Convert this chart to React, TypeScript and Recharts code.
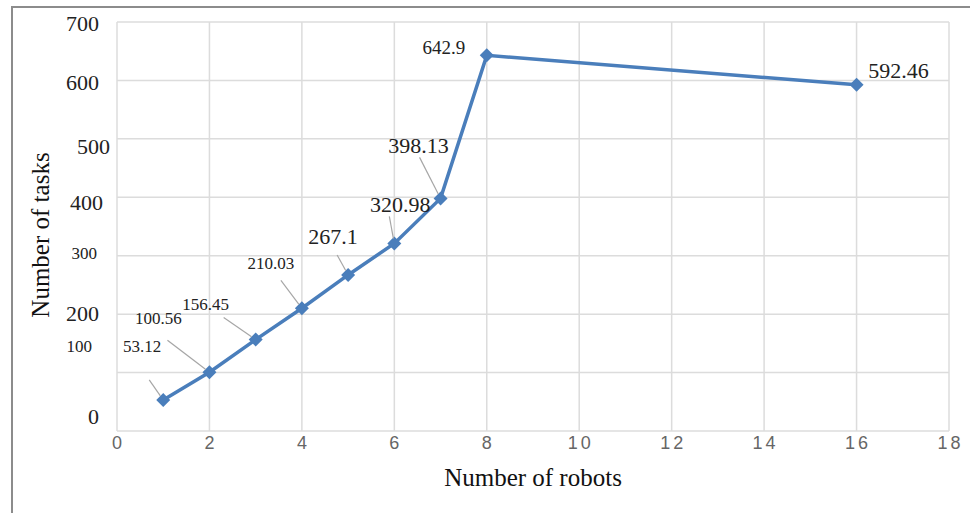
import { LineChart, Line, XAxis, YAxis, CartesianGrid, LabelList } from "recharts";

const robots = [1, 2, 3, 4, 5, 6, 7, 8, 16];
const tasks = [53.12, 100.56, 156.45, 210.03, 267.1, 320.98, 398.13, 642.9, 592.46];
const xTicks = [0, 2, 4, 6, 8, 10, 12, 14, 16, 18];
const yTicks = [0, 100, 200, 300, 400, 500, 600, 700];

const data = robots.map((r, i) => ({ robots: r, tasks: tasks[i] }));

const BLUE = "#4a7ebb";
const SERIF = "'Liberation Serif', 'Times New Roman', serif";

// where each data label sits relative to its point (Excel moved them by hand)
const labelPlacement = [
  { dx: -21, dy: -53, size: 17, leader: [-14, -20] },
  { dx: -51, dy: -54, size: 17, leader: [-42, -32] },
  { dx: -50, dy: -35, size: 17, leader: [-32, -22] },
  { dx: -31, dy: -45, size: 17, leader: [-21, -28] },
  { dx: -15, dy: -38, size: 22, leader: [-11, -20] },
  { dx: 6, dy: -39, size: 22, leader: [-5, -27] },
  { dx: -22, dy: -53, size: 22, leader: [-21, -41] },
  { dx: -43, dy: -8, size: 19, leader: null },
  { dx: 42, dy: -14, size: 22, leader: null },
];

// the y tick labels in the source are a bit off their gridlines
const yTickNudge: Record<number, { dx: number; dy: number; size: number }> = {
  0: { dx: 0, dy: -15, size: 22 },
  100: { dx: -7, dy: -26, size: 17 },
  200: { dx: 0, dy: -1, size: 22 },
  300: { dx: -2, dy: -2, size: 17 },
  400: { dx: 4, dy: 5, size: 22 },
  500: { dx: 11, dy: 8, size: 22 },
  600: { dx: 0, dy: 2, size: 22 },
  700: { dx: 0, dy: 1, size: 22 },
};

function YTick({ x, y, payload }: any) {
  const n = yTickNudge[payload.value] ?? { dx: 0, dy: 0, size: 22 };
  return (
    <text x={x + n.dx} y={y + n.dy} textAnchor="end" dominantBaseline="central" fontSize={n.size} fontFamily={SERIF} fill="#222">
      {payload.value}
    </text>
  );
}

function XTick({ x, y, payload }: any) {
  return (
    <text x={x + 1.5} y={y} textAnchor="middle" dominantBaseline="central" fontSize={18} letterSpacing={3} fontFamily="'Liberation Sans', Arial, sans-serif" fill="#666">
      {payload.value}
    </text>
  );
}

function Diamond({ cx, cy }: any) {
  const r = 7;
  return <polygon points={`${cx},${cy - r} ${cx + r},${cy} ${cx},${cy + r} ${cx - r},${cy}`} fill={BLUE} />;
}

function PointLabel({ x, y, value, index }: any) {
  const p = labelPlacement[index];
  if (!p) return null;
  let leader = null;
  if (p.leader) {
    const [lx, ly] = p.leader;
    const len = Math.hypot(lx, ly);
    const k = (len - 5) / len;
    leader = <line x1={x + lx} y1={y + ly} x2={x + lx - lx * k} y2={y + ly - ly * k} stroke="#a6a6a6" strokeWidth={1.2} />;
  }
  return (
    <g>
      {leader}
      <text x={x + p.dx} y={y + p.dy} textAnchor="middle" dominantBaseline="central" fontSize={p.size} fontFamily={SERIF} fill="#222">
        {value}
      </text>
    </g>
  );
}

export default function App() {
  return (
    <div style={{ position: "absolute", left: 0, top: 0, width: 970, height: 513, background: "#fff", overflow: "hidden" }}>
      <LineChart width={970} height={513} data={data} margin={{ top: 22, right: 21, bottom: 52, left: 57 }}>
        <CartesianGrid stroke="#dcdcdc" strokeWidth={1.5} verticalValues={xTicks} horizontalValues={yTicks} />
        <XAxis
          dataKey="robots"
          type="number"
          domain={[0, 18]}
          ticks={xTicks}
          height={30}
          axisLine={false}
          tickLine={false}
          tickSize={0}
          tickMargin={12}
          tick={<XTick />}
          interval={0}
        />
        <YAxis
          type="number"
          domain={[0, 700]}
          ticks={yTicks}
          width={60}
          axisLine={false}
          tickLine={false}
          tickSize={0}
          tickMargin={18}
          tick={<YTick />}
          interval={0}
        />
        <Line
          dataKey="tasks"
          stroke={BLUE}
          strokeWidth={3.5}
          dot={<Diamond />}
          activeDot={false}
          isAnimationActive={false}
        >
          <LabelList dataKey="tasks" content={<PointLabel />} />
        </Line>
      </LineChart>
      <div style={{ position: "absolute", left: 11, top: 6, width: 2, height: 507, background: "#8c8c8c" }} />
      <div style={{ position: "absolute", left: 11, top: 6, width: 959, height: 2, background: "#8c8c8c" }} />
      <div
        style={{
          position: "absolute",
          left: 41,
          top: 235,
          transform: "translate(-50%, -50%) rotate(-90deg)",
          fontFamily: SERIF,
          fontSize: 25,
          color: "#111",
          whiteSpace: "nowrap",
        }}
      >
        Number of tasks
      </div>
      <div
        style={{
          position: "absolute",
          left: 533,
          top: 478,
          transform: "translate(-50%, -50%)",
          fontFamily: SERIF,
          fontSize: 25,
          color: "#111",
          whiteSpace: "nowrap",
        }}
      >
        Number of robots
      </div>
    </div>
  );
}
